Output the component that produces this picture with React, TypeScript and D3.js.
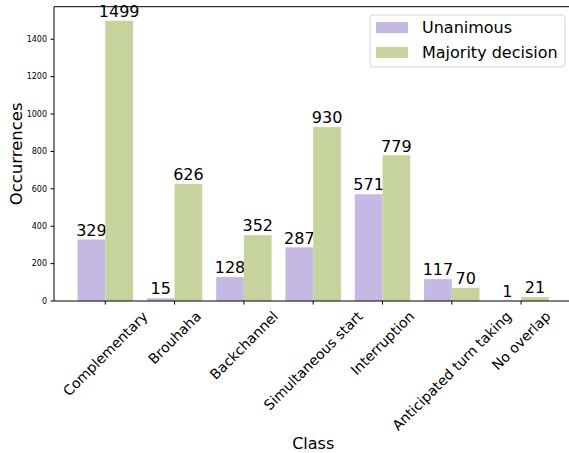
import React, { useEffect, useRef } from 'react';
import * as d3 from 'd3';

const categories = [
  'Complementary',
  'Brouhaha',
  'Backchannel',
  'Simultaneous start',
  'Interruption',
  'Anticipated turn taking',
  'No overlap',
];
const unanimous = [329, 15, 128, 287, 571, 117, 1];
const majority = [1499, 626, 352, 930, 779, 70, 21];
const yTicks = [0, 200, 400, 600, 800, 1000, 1200, 1400];
const seriesNames = ['Unanimous', 'Majority decision'];
const colors = ['#c5b9e3', '#c6d39c'];

const App: React.FC = () => {
  const svgRef = useRef<SVGSVGElement>(null);

  useEffect(() => {
    if (!svgRef.current) return;
    const svg = d3.select(svgRef.current);
    svg.selectAll('*').remove();

    const font = 'DejaVu Sans, sans-serif';
    const left = 54;
    const top = 6.7;
    const bottom = 301;
    const n = categories.length;

    // matplotlib-style limits: bars span -0.4..n-0.6, plus 5% margin
    const span = (n - 1) + 0.8;
    const x = d3.scaleLinear()
      .domain([-0.4 - span * 0.05, n - 0.6 + span * 0.05])
      .range([left, left + 69.3 * (n - 1 + 0.8 + span * 0.1)]);
    const maxV = d3.max(majority) || 0;
    const y = d3.scaleLinear().domain([0, maxV * 1.05]).range([bottom, top]);
    const bw = x(0.4) - x(0);

    const right = x.range()[1];

    // Bars
    [unanimous, majority].forEach((vals, s) => {
      const off = s === 0 ? -0.2 : 0.2;
      svg.append('g').selectAll('rect')
        .data(vals)
        .enter()
        .append('rect')
        .attr('x', (_, i) => x(i + off) - bw / 2)
        .attr('y', d => y(d))
        .attr('width', bw)
        .attr('height', d => bottom - y(d))
        .attr('fill', colors[s]);

      svg.append('g').selectAll('text')
        .data(vals)
        .enter()
        .append('text')
        .attr('x', (_, i) => x(i + off))
        .attr('y', d => y(d) - 3.8)
        .attr('text-anchor', 'middle')
        .attr('font-family', font)
        .attr('font-size', 16)
        .attr('fill', '#000')
        .text(d => d);
    });

    // Spines
    svg.append('path')
      .attr('d', `M${left},${bottom}V${top}H${right}M${left},${bottom}H${right}V${top}`)
      .attr('fill', 'none')
      .attr('stroke', '#000')
      .attr('stroke-width', 1);

    // Y ticks
    const yt = svg.append('g');
    yTicks.forEach(t => {
      yt.append('line')
        .attr('x1', left - 3.5).attr('x2', left)
        .attr('y1', y(t)).attr('y2', y(t))
        .attr('stroke', '#000');
      yt.append('text')
        .attr('x', left - 7)
        .attr('y', y(t))
        .attr('dy', '0.35em')
        .attr('text-anchor', 'end')
        .attr('font-family', font)
        .attr('font-size', 8)
        .text(t);
    });

    // X ticks, labels rotated 45deg, centred under tick
    const xt = svg.append('g');
    categories.forEach((c, i) => {
      xt.append('line')
        .attr('x1', x(i)).attr('x2', x(i))
        .attr('y1', bottom).attr('y2', bottom + 3.5)
        .attr('stroke', '#000');
      const t = xt.append('text')
        .attr('text-anchor', 'middle')
        .attr('dominant-baseline', 'central')
        .attr('font-family', font)
        .attr('font-size', 14)
        .text(c);
      const w = (t.node() as SVGTextElement).getComputedTextLength();
      const h = 14 * 1.16;
      const half = (w + h) * Math.SQRT1_2 / 2;
      t.attr('transform', `translate(${x(i)},${bottom + 7 + half}) rotate(-45)`);
    });

    // Axis titles
    svg.append('text')
      .attr('x', (left + right) / 2)
      .attr('y', 449)
      .attr('text-anchor', 'middle')
      .attr('font-family', font)
      .attr('font-size', 16)
      .text('Class');
    svg.append('text')
      .attr('transform', `translate(22,${(top + bottom) / 2}) rotate(-90)`)
      .attr('text-anchor', 'middle')
      .attr('font-family', font)
      .attr('font-size', 16.5)
      .text('Occurrences');

    // Legend
    const lg = svg.append('g');
    lg.append('rect')
      .attr('x', 370).attr('y', 15)
      .attr('width', 195).attr('height', 52)
      .attr('rx', 3)
      .attr('fill', '#fff')
      .attr('fill-opacity', 0.8)
      .attr('stroke', '#d5d5d5');
    seriesNames.forEach((name, s) => {
      const cy = 27.5 + s * 25;
      lg.append('rect')
        .attr('x', 376).attr('y', cy - 5.6)
        .attr('width', 32).attr('height', 11.2)
        .attr('fill', colors[s]);
      lg.append('text')
        .attr('x', 422).attr('y', cy)
        .attr('dy', '0.35em')
        .attr('font-family', font)
        .attr('font-size', 16)
        .text(name);
    });
  }, []);

  return (
    <svg
      ref={svgRef}
      width={569}
      height={453}
      style={{ position: 'absolute', left: 0, top: 0, background: '#fff' }}
    />
  );
};

export default App;
